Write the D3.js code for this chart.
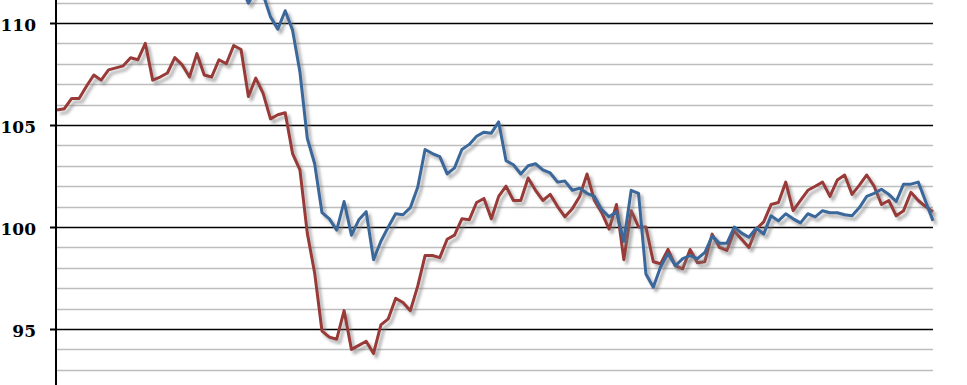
<!DOCTYPE html>
<html>
<head>
<meta charset="utf-8">
<script src="https://cdn.jsdelivr.net/npm/d3@7"></script>
<style>
    body { margin: 0; background: #fff; }
    svg { display: block; }
</style>
</head>
<body>
<div id="chart"></div>
<script>
// monthly index values, 120 points
const redValues = [
    105.74, 105.8, 106.3, 106.3, 106.9, 107.45, 107.2, 107.7, 107.8, 107.9,
    108.3, 108.2, 109.0, 107.2, 107.35, 107.55, 108.3, 107.95, 107.35, 108.5,
    107.45, 107.35, 108.2, 108.0, 108.9, 108.7, 106.4, 107.3, 106.55, 105.3,
    105.5, 105.6, 103.6, 102.8, 99.7, 97.75, 94.9, 94.6, 94.5, 95.9,
    94.0, 94.2, 94.4, 93.8, 95.2, 95.5, 96.5, 96.3, 95.9, 97.1,
    98.6, 98.6, 98.5, 99.4, 99.6, 100.4, 100.35, 101.2, 101.4, 100.4,
    101.5, 102.0, 101.3, 101.3, 102.4, 101.8, 101.3, 101.6, 101.0, 100.5,
    100.9, 101.5, 102.6, 101.3, 100.7, 99.9, 101.1, 98.4, 100.8, 100.0,
    100.0, 98.3, 98.2, 98.9, 98.1, 97.95, 98.9, 98.25, 98.3, 99.65,
    99.0, 98.85, 99.8, 99.4, 99.0, 99.9, 100.25, 101.1, 101.2, 102.2,
    100.8, 101.3, 101.8, 102.0, 102.2, 101.5, 102.3, 102.55, 101.6, 102.05,
    102.55, 102.0, 101.1, 101.3, 100.55, 100.8, 101.7, 101.3, 101.0, 100.75
];

// first part of this series runs above the visible range
const blueValues = [
    null, null, null, null, null, null, null, null, null, null,
    null, null, null, null, null, null, null, null, null, null,
    null, null, null, null, null, 111.8, 110.97, 111.6, 111.4, 110.3,
    109.7, 110.6, 109.65, 107.6, 104.35, 103.1, 100.7, 100.4, 99.85, 101.25,
    99.6, 100.35, 100.75, 98.4, 99.3, 100.0, 100.65, 100.6, 100.95, 101.95,
    103.8, 103.6, 103.45, 102.6, 102.9, 103.8, 104.05, 104.45, 104.65, 104.6,
    105.15, 103.25, 103.05, 102.6, 103.0, 103.1, 102.8, 102.65, 102.2, 102.25,
    101.8, 101.9, 101.65, 101.5, 100.85, 100.5, 100.75, 99.3, 101.8, 101.65,
    97.7, 97.05, 98.05, 98.7, 98.1, 98.45, 98.6, 98.45, 98.75, 99.55,
    99.2, 99.2, 100.0, 99.7, 99.5, 99.95, 99.65, 100.55, 100.3, 100.65,
    100.4, 100.2, 100.65, 100.5, 100.8, 100.7, 100.7, 100.6, 100.55, 100.95,
    101.5, 101.65, 101.85, 101.6, 101.25, 102.1, 102.1, 102.2, 101.25, 100.3
];

const majorTicks = [95, 100, 105, 110];
const minorTicks = [92, 93, 94, 96, 97, 98, 99, 101, 102, 103, 104, 106, 107, 108, 109, 111];

const width = 967, height = 385;
const plot = {left: 57, right: 933};

const svg = d3.select("#chart")
    .append("svg")
    .attr("width", width)
    .attr("height", height);

const x = d3.scaleLinear()
    .domain([0, redValues.length - 1])
    .range([plot.left, plot.right]);

const y = d3.scaleLinear()
    .domain([92, 111])
    .range([390.2, 2.6]);

const defs = svg.append("defs");
const shadow = defs.append("filter")
    .attr("id", "shadow")
    .attr("x", "-5%").attr("y", "-5%")
    .attr("width", "110%").attr("height", "115%");
shadow.append("feDropShadow")
    .attr("dx", 3)
    .attr("dy", 3.5)
    .attr("stdDeviation", 1.8)
    .attr("flood-color", "#777")
    .attr("flood-opacity", 0.6);

defs.append("clipPath")
    .attr("id", "plotClip")
    .append("rect")
    .attr("x", plot.left)
    .attr("y", 0)
    .attr("width", plot.right - plot.left + 10)
    .attr("height", height);

// gridlines
svg.append("g")
    .selectAll("line")
    .data(minorTicks)
    .enter()
    .append("line")
    .attr("x1", plot.left)
    .attr("x2", plot.right)
    .attr("y1", d => Math.round(y(d)) + 0.5)
    .attr("y2", d => Math.round(y(d)) + 0.5)
    .style("stroke", "#bdbdbd")
    .style("stroke-width", 1.6);

svg.append("g")
    .selectAll("line")
    .data(majorTicks)
    .enter()
    .append("line")
    .attr("x1", plot.left)
    .attr("x2", plot.right)
    .attr("y1", d => Math.round(y(d)) + 0.5)
    .attr("y2", d => Math.round(y(d)) + 0.5)
    .style("stroke", "#000")
    .style("stroke-width", 1.4);

// y axis
const yAxis = svg.append("g")
    .attr("transform", "translate(" + (plot.left - 1) + ",0)")
    .call(d3.axisLeft(y).tickValues(majorTicks).tickSize(6).tickPadding(14));
yAxis.select(".domain").remove();
yAxis.selectAll(".tick line")
    .style("stroke", "#000")
    .style("stroke-width", 2);
yAxis.selectAll(".tick text")
    .attr("dy", "0.42em")
    .style("font-family", "'DejaVu Serif', serif")
    .style("font-weight", "bold")
    .style("font-size", "17px")
    .style("fill", "#000");

svg.append("line")
    .attr("x1", plot.left - 1)
    .attr("x2", plot.left - 1)
    .attr("y1", 0)
    .attr("y2", height)
    .style("stroke", "#000")
    .style("stroke-width", 2);

const line = d3.line()
    .defined(d => d !== null)
    .x((d, i) => x(i))
    .y(d => y(d));

const lines = svg.append("g")
    .attr("clip-path", "url(#plotClip)");

lines.append("path")
    .datum(redValues)
    .attr("d", line)
    .attr("fill", "none")
    .attr("stroke", "#983a37")
    .attr("stroke-width", 3)
    .attr("stroke-linejoin", "round")
    .attr("filter", "url(#shadow)");

lines.append("path")
    .datum(blueValues)
    .attr("d", line)
    .attr("fill", "none")
    .attr("stroke", "#3a679a")
    .attr("stroke-width", 3)
    .attr("stroke-linejoin", "round")
    .attr("filter", "url(#shadow)");
</script>
</body>
</html>
